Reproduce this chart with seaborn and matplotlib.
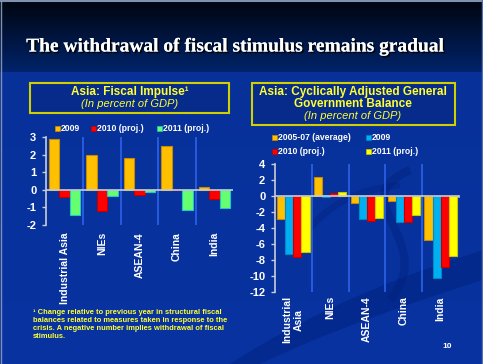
import numpy as np
import pandas as pd
import matplotlib
matplotlib.use("Agg")
import matplotlib.pyplot as plt
import seaborn as sns
from matplotlib.patches import Rectangle, PathPatch
from matplotlib.path import Path
import matplotlib.patheffects as pe

# ---------------- data ----------------
regions_left = ["Industrial Asia", "NIEs", "ASEAN-4", "China", "India"]
left_series = ["2009", "2010 (proj.)", "2011 (proj.)"]
impulse_2009 = [2.9, 2.0, 1.8, 2.5, 0.15]
impulse_2010 = [-0.4, -1.2, -0.3, 0.0, -0.55]
impulse_2011 = [-1.45, -0.35, -0.15, -1.15, -1.05]
left_yticks = [3, 2, 1, 0, -1, -2]

regions_right = ["Industrial\nAsia", "NIEs", "ASEAN-4", "China", "India"]
right_series = ["2005-07 (average)", "2009", "2010 (proj.)", "2011 (proj.)"]
cab_0507 = [-2.9, 2.4, -0.9, -0.6, -5.5]
cab_2009 = [-7.2, -0.1, -2.9, -3.3, -10.3]
cab_2010 = [-7.6, 0.35, -3.1, -3.3, -8.9]
cab_2011 = [-7.0, 0.5, -2.7, -2.4, -7.5]
right_yticks = [4, 2, 0, -2, -4, -6, -8, -10, -12]

# ---------------- styling ----------------
W, H = 483, 364
FONT = ["Liberation Sans", "DejaVu Sans"]
plt.rcParams["font.family"] = FONT
plt.rcParams["font.weight"] = "bold"

left_face = ["#FFC000", "#FF0000", "#66FF70"]
left_edge = ["#C88A00", "#C00000", "#20C8C8"]
right_face = ["#FFC000", "#00B0F0", "#FF0000", "#FFFF00"]
right_edge = ["#C88A00", "#0088C8", "#C00000", "#C8C800"]
YEL = "#FFFF33"


def fx(x):
    return x / W


def fy(y):
    return 1 - y / H


fig = plt.figure(figsize=(W / 100, H / 100), dpi=100)

# background gradient
bg = fig.add_axes([0, 0, 1, 1], zorder=-10)
img = np.zeros((H, 1, 3))
top = np.array([0.0, 0.02, 0.06])
band_bot = np.array([0.0, 0.14, 0.42])
body_top = np.array([0.03, 0.19, 0.60])
body_bot = np.array([0.03, 0.20, 0.63])
for r in range(H):
    if r < 72:
        t = r / 72
        img[r, 0] = top * (1 - t) + band_bot * t
    else:
        t = (r - 72) / (H - 72)
        img[r, 0] = body_top * (1 - t) + body_bot * t
bg.imshow(img, aspect="auto", extent=[0, W, H, 0])
bg.set_xlim(0, W)
bg.set_ylim(H, 0)
# decorative swooshes
verts = [(230, 364), (330, 300), (420, 270), (483, 250), (483, 280), (420, 300), (330, 330), (260, 364), (230, 364)]
codes = [Path.MOVETO, Path.CURVE4, Path.CURVE4, Path.CURVE4, Path.LINETO, Path.CURVE4, Path.CURVE4, Path.CURVE4, Path.CLOSEPOLY]
bg.add_patch(PathPatch(Path(verts, codes), fc="#001a70", ec="none", alpha=0.35))
sw = [(410, 170), (340, 200), (440, 240), (390, 300)]
bg.add_patch(PathPatch(Path(sw, [Path.MOVETO, Path.CURVE4, Path.CURVE4, Path.CURVE4]),
                       fc="none", ec="#001a70", lw=6, alpha=0.3))
sw2 = [(300, 240), (330, 200), (360, 190), (400, 185)]
bg.add_patch(PathPatch(Path(sw2, [Path.MOVETO, Path.CURVE4, Path.CURVE4, Path.CURVE4]),
                       fc="none", ec="#001a70", lw=5, alpha=0.25))
bg.plot([0, 483], [1, 1], color="#8090b0", lw=1.5)
bg.plot([1, 1], [0, 364], color="#8090b0", lw=1.0)
bg.plot([481.5, 481.5], [0, 364], color="#5070b8", lw=1.0)
bg.axis("off")

# title
fig.text(fx(236), fy(47), "The withdrawal of fiscal stimulus remains gradual",
         ha="center", va="center", color="white", fontsize=14.0,
         family=["Liberation Serif", "DejaVu Serif"], fontweight="bold",
         path_effects=[pe.withSimplePatchShadow(offset=(1.2, -1.2), shadow_rgbFace="#000000", alpha=0.9), pe.Normal()])

# ---------------- left chart ----------------
dfl = pd.DataFrame({
    "region": regions_left * 3,
    "series": [s for s in left_series for _ in regions_left],
    "value": impulse_2009 + impulse_2010 + impulse_2011,
})
axl = fig.add_axes([fx(46), fy(225), fx(187), 88 / H])
sns.barplot(data=dfl, x="region", y="value", hue="series", hue_order=left_series,
            order=regions_left, palette=left_face, width=0.84, ax=axl,
            legend=False, errorbar=None, saturation=1)
for cont, ec in zip(axl.containers, left_edge):
    for p in cont:
        p.set_edgecolor(ec)
        p.set_linewidth(0.8)
axl.set_ylim(-2, 3)
axl.set_xlim(-0.5, 4.5)

# ---------------- right chart ----------------
dfr = pd.DataFrame({
    "region": regions_right * 4,
    "series": [s for s in right_series for _ in regions_right],
    "value": cab_0507 + cab_2009 + cab_2010 + cab_2011,
})
axr = fig.add_axes([fx(275), fy(292), fx(184), 128 / H])
sns.barplot(data=dfr, x="region", y="value", hue="series", hue_order=right_series,
            order=regions_right, palette=right_face, width=0.88, ax=axr,
            legend=False, errorbar=None, saturation=1)
for cont, ec in zip(axr.containers, right_edge):
    for p in cont:
        p.set_edgecolor(ec)
        p.set_linewidth(0.8)
axr.set_ylim(-12, 4)
axr.set_xlim(-0.5, 4.5)

for ax, ticks, pad in [(axl, left_yticks, 5), (axr, right_yticks, 3)]:
    ax.set_facecolor("none")
    ax.set_xlabel("")
    ax.set_ylabel("")
    ax.set_yticks(ticks)
    ax.set_yticklabels([str(t) for t in ticks])
    for s in ["top", "right", "bottom"]:
        ax.spines[s].set_visible(False)
    ax.spines["left"].set_color("#c8ccd8")
    ax.spines["left"].set_linewidth(1.2)
    ax.tick_params(axis="y", colors="#c8ccd8", length=3, width=1, labelcolor="white",
                   labelsize=8, pad=4)
    ax.tick_params(axis="x", length=0, labelcolor="white", labelsize=7.5, pad=pad,
                   rotation=90)
    for lab in ax.get_yticklabels() + ax.get_xticklabels():
        lab.set_fontweight("bold")
    for lab in ax.get_xticklabels():
        lab.set_multialignment("center")
    ax.axhline(0, color="#c8ccd8", lw=1.2, zorder=3)
    for xv in [0.5, 1.5, 2.5, 3.5]:
        ax.axvline(xv, color="#2d62ea", lw=1.2, zorder=0.5)
    ax.plot([4.5, 4.5], [0, -0.06 * (ticks[0] - ticks[-1]) / 5 * 0.6], color="#c8ccd8", lw=1.2,
            clip_on=False)

# ---------------- title boxes ----------------
for (x0, y0, x1, y1) in [(30, 83, 229, 113), (252, 83, 455, 125)]:
    fig.patches.append(Rectangle((fx(x0), fy(y1)), fx(x1 - x0), (y1 - y0) / H,
                                 transform=fig.transFigure, fc="#072b8a", ec="#D0D000",
                                 lw=1.5, zorder=1))
fig.text(fx(130), fy(92), "Asia: Fiscal Impulse\u00b9", ha="center", va="center",
         color=YEL, fontsize=8.5, fontweight="bold")
fig.text(fx(130), fy(104), "(In percent of GDP)", ha="center", va="center",
         color=YEL, fontsize=8, fontweight="normal", style="italic")
fig.text(fx(353), fy(92), "Asia: Cyclically Adjusted General", ha="center", va="center",
         color=YEL, fontsize=8.5, fontweight="bold")
fig.text(fx(353), fy(104), "Government Balance", ha="center", va="center",
         color=YEL, fontsize=8.5, fontweight="bold")
fig.text(fx(353), fy(116), "(In percent of GDP)", ha="center", va="center",
         color=YEL, fontsize=8, fontweight="normal", style="italic")

# ---------------- legends ----------------
def legend_item(x, y, face, edge, label):
    fig.patches.append(Rectangle((fx(x), fy(y + 2.5)), fx(5), 5 / H, transform=fig.transFigure,
                                 fc=face, ec=edge, lw=0.5, zorder=2))
    fig.text(fx(x + 6), fy(y), label, ha="left", va="center", color="white",
             fontsize=6.2, fontweight="bold")

for x, f, e, lab in zip([55, 91, 157], left_face, left_edge, left_series):
    legend_item(x, 128, f, e, lab)
for (x, y), f, e, lab in zip([(272, 137), (366, 137), (272, 151), (366, 151)],
                             right_face, right_edge, right_series):
    legend_item(x, y, f, e, lab)

# ---------------- footnote / page ----------------
foot = ["\u00b9 Change relative to previous year in structural fiscal",
        "balances related to measures taken in response to the",
        "crisis. A negative number implies withdrawal of fiscal",
        "stimulus."]
for i, line in enumerate(foot):
    fig.text(fx(33), fy(312 + 8 * i), line, ha="left", va="center", color=YEL,
             fontsize=5.4, fontweight="bold")
fig.text(fx(447), fy(347), "10", ha="center", va="center", color="white", fontsize=6)

fig.savefig("out.png", dpi=100, facecolor=fig.get_facecolor())
